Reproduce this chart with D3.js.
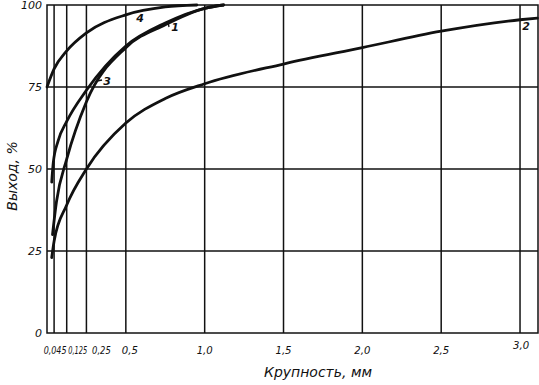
<!DOCTYPE html>
<html>
<head>
<meta charset="utf-8">
<script src="https://cdn.jsdelivr.net/npm/d3@7"></script>
<style>
  html, body { margin: 0; padding: 0; background: #fff; }
  svg text { font-family: "DejaVu Sans", sans-serif; font-style: italic; fill: #111; }
</style>
</head>
<body>
<svg id="chart" width="539" height="385"></svg>
<script>
// size of particle, mm -> yield, %
const curve1 = [[0.03, 46], [0.04, 52], [0.07, 58.5], [0.125, 64.5], [0.25, 74], [0.5, 87.5], [0.75, 94.5], [1.0, 99], [1.12, 100]];
const curve2 = [[0.03, 23], [0.045, 28], [0.125, 39], [0.25, 50], [0.5, 64], [0.75, 71.5], [1.0, 76], [1.5, 82], [2.0, 87], [2.5, 92], [3.0, 95.5], [3.11, 96]];
const curve3 = [[0.035, 30], [0.06, 40], [0.125, 53], [0.25, 70.5], [0.5, 87], [0.75, 94], [1.0, 99], [1.12, 100]];
const curve4 = [[0, 75], [0.045, 80.5], [0.125, 86], [0.25, 91.5], [0.5, 97], [0.75, 99.4], [0.95, 100]];

const xTicks = [0.045, 0.125, 0.25, 0.5, 1.0, 1.5, 2.0, 2.5, 3.0];
const xTickLabels = ["0,045", "0,125", "0,25", "0,5", "1,0", "1,5", "2,0", "2,5", "3,0"];
const yTicks = [0, 25, 50, 75, 100];
const yTickLabels = ["0", "25", "50", "75", "100"];

const svg = d3.select("#chart");
const x = d3.scaleLinear().domain([0, 3.114]).range([47, 538]);
const y = d3.scaleLinear().domain([0, 100]).range([333, 5]);

const grid = svg.append("g").attr("stroke", "#111").attr("stroke-width", 1.5);
// frame
grid.append("rect")
  .attr("x", x(0)).attr("y", y(100))
  .attr("width", x.range()[1] - x(0)).attr("height", y(0) - y(100))
  .attr("fill", "none");
grid.selectAll("line.v").data(xTicks).join("line").attr("class", "v")
  .attr("x1", d => x(d)).attr("x2", d => x(d))
  .attr("y1", y(0)).attr("y2", y(100));
grid.selectAll("line.h").data(yTicks.filter(d => d > 0 && d < 100)).join("line").attr("class", "h")
  .attr("x1", x(0)).attr("x2", x.range()[1])
  .attr("y1", d => y(d)).attr("y2", d => y(d));

// tick labels — the three small ones are crowded, so squeeze (scaleX) and nudge them
const nudge = { 0.045: 1, 0.125: 11, 0.25: 15, 0.5: 4, 3.0: 1 };
const squeeze = { 0.045: 0.8, 0.125: 0.66, 0.25: 0.84 };
svg.append("g").selectAll("text").data(xTicks).join("text")
  .attr("transform", d => `translate(${x(d) + (nudge[d] || 0)},${d === 3.0 ? 349 : 354}) scale(${squeeze[d] || 0.92},1)`)
  .attr("text-anchor", "middle")
  .attr("font-size", d => squeeze[d] ? 10 : 11)
  .text((d, i) => xTickLabels[i]);

svg.append("g").selectAll("text").data(yTicks).join("text")
  .attr("x", 42)
  .attr("y", d => y(d) + 4)
  .attr("text-anchor", "end")
  .attr("font-size", 11)
  .text((d, i) => yTickLabels[i]);

// curves
const line = d3.line().x(d => x(d[0])).y(d => y(d[1])).curve(d3.curveMonotoneX);
svg.append("g").attr("fill", "none").attr("stroke", "#111").attr("stroke-width", 2.8)
  .attr("stroke-linecap", "round")
  .selectAll("path").data([curve1, curve2, curve3, curve4]).join("path")
  .attr("d", line);

// curve numbers
const marks = svg.append("g").attr("font-size", 11).attr("font-weight", "bold");
marks.append("text").attr("x", 140).attr("y", 22).attr("text-anchor", "middle").text("4");
marks.append("text").attr("x", 175).attr("y", 31).attr("text-anchor", "middle").text("1");
marks.append("text").attr("x", 107).attr("y", 85).attr("text-anchor", "middle").text("3");
marks.append("text").attr("x", 526).attr("y", 30).attr("text-anchor", "middle").text("2");
svg.append("line").attr("x1", 97).attr("x2", 102).attr("y1", 81).attr("y2", 80)
  .attr("stroke", "#111").attr("stroke-width", 1.3);
svg.append("line").attr("x1", 168).attr("x2", 169).attr("y1", 22).attr("y2", 27)
  .attr("stroke", "#111").attr("stroke-width", 1.3);

// axis titles
svg.append("text").attr("x", 318).attr("y", 377).attr("text-anchor", "middle")
  .attr("font-size", 14).text("Крупность, мм");
svg.append("text").attr("transform", "translate(17,176) rotate(-90)")
  .attr("text-anchor", "middle").attr("font-size", 14).text("Выход, %");
</script>
</body>
</html>
